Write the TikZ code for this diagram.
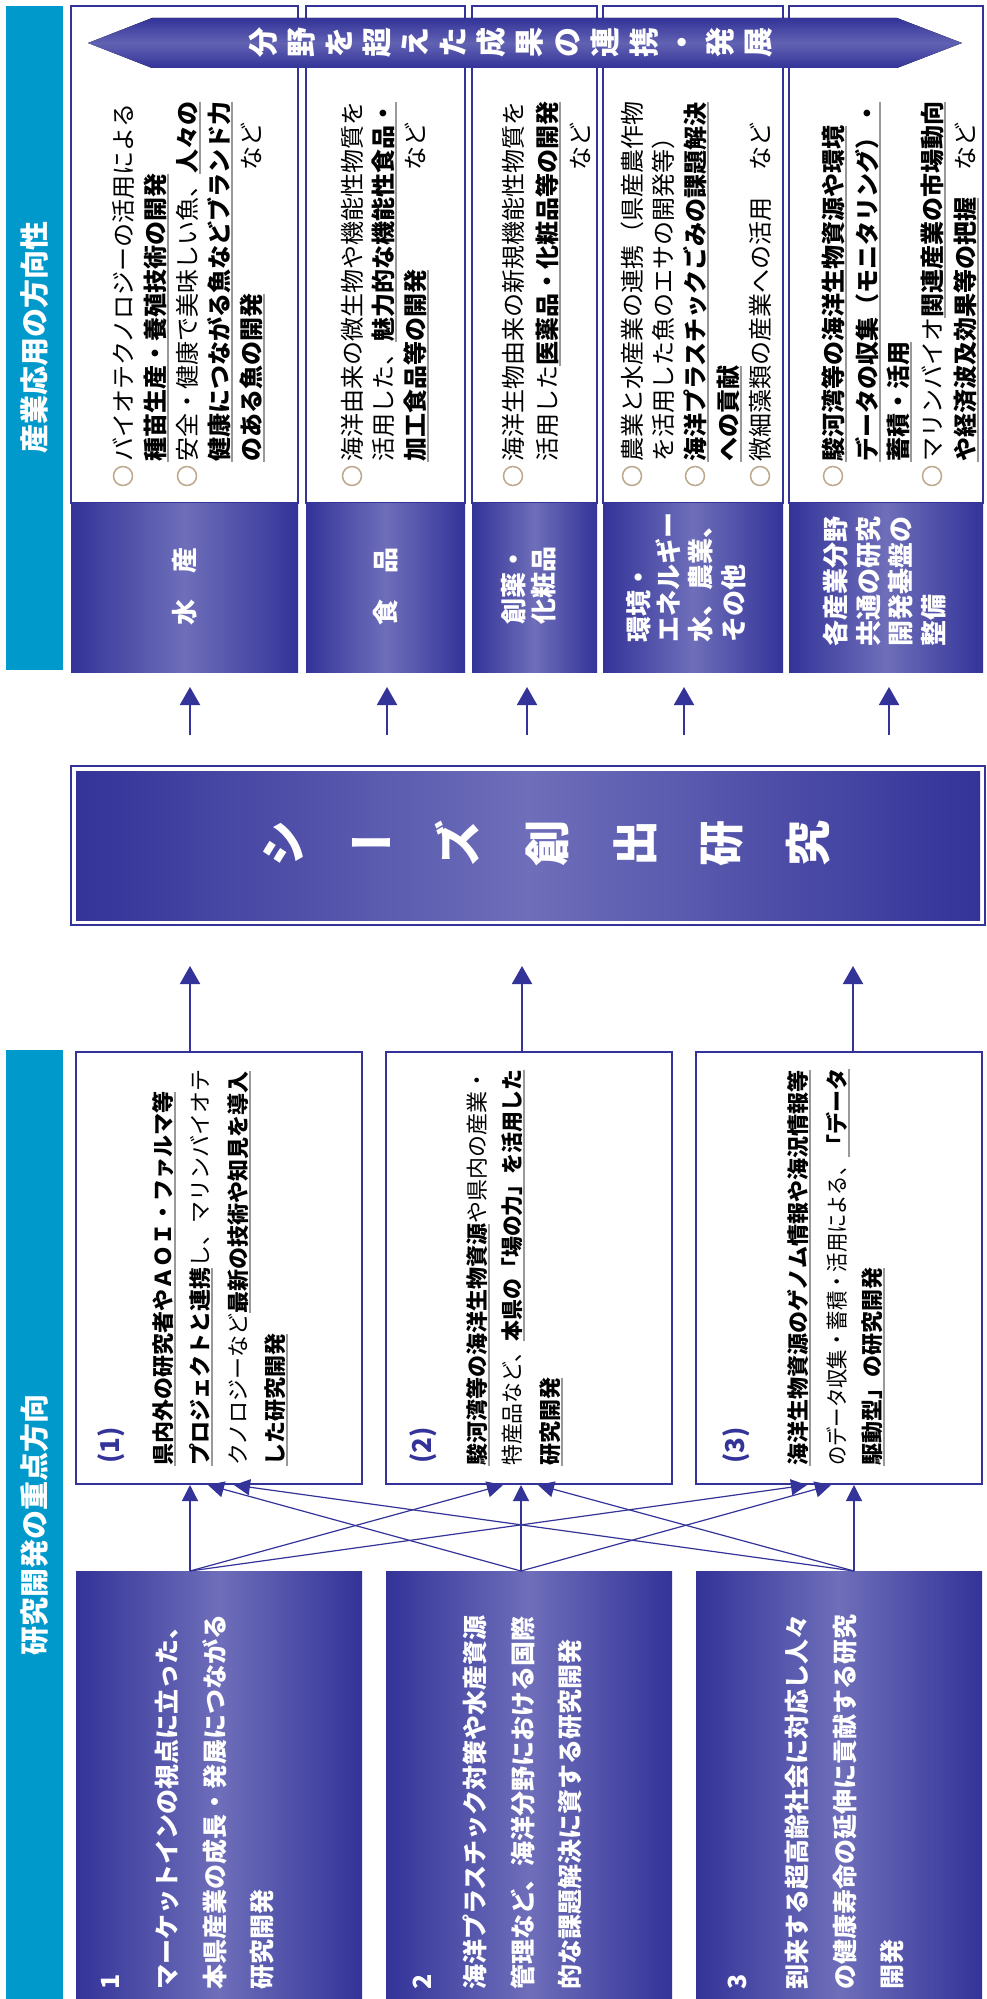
\documentclass[tikz,border=0pt]{standalone}
\usepackage{fontspec}
\usepackage{graphicx}
\setmainfont{Noto Sans CJK JP}
\usetikzlibrary{arrows.meta}
\definecolor{nv}{RGB}{51,51,153}
\definecolor{lt}{RGB}{110,110,186}
\definecolor{cy}{RGB}{0,153,204}
\definecolor{ci}{RGB}{190,168,140}
\newcommand\bu[1]{\setbox0\hbox{\bfseries #1}\rlap{\color{black!40}\rule[-0.22em]{\wd0}{0.1em}}\box0}
\tikzset{
 c24/.style={rotate=90, inner sep=0pt, anchor=west, font=\fontsize{24}{24}\selectfont, text height=21pt, text depth=3pt},
 r22/.style={rotate=90, inner sep=0pt, anchor=west, font=\fontsize{22}{22}\selectfont, text height=19.4pt, text depth=2.6pt},
 d25/.style={rotate=90, inner sep=0pt, anchor=west, text=white, font=\fontsize{25}{25}\selectfont\bfseries, text height=22pt, text depth=3pt},
 l26/.style={rotate=90, inner sep=0pt, anchor=west, text=white, font=\fontsize{26}{26}\selectfont\bfseries, text height=23pt, text depth=3pt},
 ttl/.style={rotate=90, inner sep=0pt, text=white, font=\fontsize{29}{29}\selectfont\bfseries, text height=25.5pt, text depth=3.5pt},
 bch/.style={rotate=90, inner sep=0pt, text=white, font=\fontsize{30}{30}\selectfont\bfseries, text height=26pt, text depth=4pt},
 sch/.style={rotate=90, inner sep=0pt, text=white, font=\fontsize{46}{46}\selectfont\bfseries, text height=40pt, text depth=6pt},
 schflat/.style={inner sep=0pt, text=white, font=\fontsize{46}{46}\selectfont\bfseries, text height=40pt, text depth=6pt},
 num/.style={rotate=90, inner sep=0pt, anchor=west, text=nv, font=\fontsize{26}{26}\selectfont\bfseries, text height=22pt, text depth=4pt},
 wbox/.style={draw=nv, line width=2pt, fill=white},
 dbox/.style={left color=nv, right color=nv, middle color=lt},
 arr/.style={draw=nv, line width=2pt, -{Triangle[length=18pt,width=20pt]}},
 xar/.style={draw=nv, line width=1.2pt, -{Triangle[length=16pt,width=16pt]}},
 circ/.style={draw=ci, line width=1.5pt},
}
\begin{document}
\begin{tikzpicture}[x=1pt,y=-1pt]
\useasboundingbox (0,0) rectangle (986,1999);
\fill[white] (0,0) rectangle (986,1999);
% cyan title bars
\fill[cy] (6,6) rectangle (63,670);
\fill[cy] (6,1050) rectangle (63,1999);
\node[ttl] (tA) at (34,337) {産業応用の方向性};
\node[ttl] (tB) at (34,1525) {研究開発の重点方向};
% industry columns
\foreach \a/\b in {71/298,306/465,472/597,603/783,789/983}{
  \draw[wbox] (\a,6) rectangle (\b,503);
  \shade[dbox] (\a,503) rectangle (\b,672);
}
% band arrow
\fill[top color=nv, bottom color=nv, middle color=lt!80!nv] (88,43) -- (152,18) -- (897,18) -- (962,43) -- (897,68) -- (152,68) -- cycle;
\foreach \c [count=\i from 0] in {分,野,を,超,え,た,成,果,の,連,携,・,発,展}
  \node[bch] (band\i) at ({263+38.1*\i},43) {\c};
% column 1
\node[c24] (c1a) at (123,462) {バイオテクノロジーの活用による};
\node[c24] (c1b) at (155,462) {\bu{種苗生産・養殖技術の開発}};
\node[c24] (c1c) at (187,462) {安全・健康で美味しい魚、\bu{人々の}};
\node[c24] (c1d) at (219,462) {\bu{健康につながる魚などブランド力}};
\node[c24] (c1e) at (251,462) {\bu{のある魚の開発}};
\node[c24,anchor=east] (c1n) at (251,122) {など};
% column 2
\node[c24] (c2a) at (352,462) {海洋由来の微生物や機能性物質を};
\node[c24] (c2b) at (383,462) {活用した、\bu{魅力的な機能性食品・}};
\node[c24] (c2c) at (415,462) {\bu{加工食品等の開発}};
\node[c24,anchor=east] (c2n) at (415,122) {など};
% column 3
\node[c24] (c3a) at (513,462) {海洋生物由来の新規機能性物質を};
\node[c24] (c3b) at (547,462) {活用した\bu{医薬品・化粧品等の開発}};
\node[c24,anchor=east] (c3n) at (580,122) {など};
% column 4
\node[c24] (c4a) at (632,462) {農業と水産業の連携（県産農作物};
\node[c24] (c4b) at (663,462) {を活用した魚のエサの開発等）};
\node[c24] (c4c) at (695,462) {\bu{海洋プラスチックごみの課題解決}};
\node[c24] (c4d) at (728,462) {\bu{への貢献}};
\node[c24] (c4e) at (760,462) {微細藻類の産業への活用};
\node[c24,anchor=east] (c4n) at (760,122) {など};
% column 5
\node[c24] (c5a) at (833,462) {\bu{駿河湾等の海洋生物資源や環境}};
\node[c24] (c5b) at (867,462) {\bu{データの収集（モニタリング）・}};
\node[c24] (c5c) at (898,462) {\bu{蓄積・活用}};
\node[c24] (c5d) at (932,462) {マリンバイオ\bu{関連産業の市場動向}};
\node[c24] (c5e) at (965,462) {\bu{や経済波及効果等の把握}};
\node[c24,anchor=east] (c5n) at (965,122) {など};
% circles
\foreach \x in {123,187,352,513,632,695,760,833,932}
  \draw[circ] (\x,476) circle[radius=9.5pt];
% labels
\node[l26,anchor=center] (L1) at (184,586) {水　産};
\node[l26,anchor=center] (L2) at (385,586) {食　品};
\node[l26] (L3a) at (513,625) {創薬・};
\node[l26] (L3b) at (543,625) {化粧品};
\node[l26] (L4a) at (638,643) {環境・};
\node[l26] (L4b) at (668,643) {エネルギー};
\node[l26] (L4c) at (700,643) {水、農業、};
\node[l26] (L4d) at (733,643) {その他};
\node[l26] (L5a) at (835,647) {各産業分野};
\node[l26] (L5b) at (868,647) {共通の研究};
\node[l26] (L5c) at (900,647) {開発基盤の};
\node[l26] (L5d) at (933,647) {整備};
% top arrows
\foreach \x [count=\i] in {190,387,527,684,889}{
  \coordinate (ts\i) at (\x,735);
  \coordinate (te\i) at (\x,687);
  \draw[arr] (ts\i) -- (te\i);
}
% seeds box
\draw[nv, line width=2pt] (71,766) rectangle (985,925);
\shade[dbox] (76,771) rectangle (980,920);
\node[sch] (s1) at (283,843) {シ};
\node[schflat] (s2) at (371,843) {ー};
\node[sch] (s3) at (458,843) {ズ};
\node[sch] (s4) at (547,843) {創};
\node[sch] (s5) at (635,843) {出};
\node[sch] (s6) at (721,843) {研};
\node[sch] (s7) at (808,843) {究};
% research boxes
\foreach \a/\b [count=\i] in {76/362,386/672,696/982}{
  \draw[wbox] (\a,1052) rectangle (\b,1484);
  \shade[dbox] (\a,1571) rectangle (\b,1999);
}
% bottom arrows
\foreach \x [count=\i] in {190,522,853}{
  \coordinate (bs\i) at (\x,1052);
  \coordinate (be\i) at (\x,966);
  \draw[arr] (bs\i) -- (be\i);
}
% research box texts
\node[num] (n1) at (110,1464) {(1)};
\node[r22] (r1a) at (163,1466) {\bu{県内外の研究者やＡＯＩ・ファルマ等}};
\node[r22] (r1b) at (200,1466) {\bu{プロジェクトと連携}し、マリンバイオテ};
\node[r22] (r1c) at (238,1466) {クノロジーなど\bu{最新の技術や知見を導入}};
\node[r22] (r1d) at (275,1466) {\bu{した研究開発}};
\node[num] (n2) at (422,1464) {(2)};
\node[r22] (r2a) at (477,1466) {\bu{駿河湾等の海洋生物資源}や県内の産業・};
\node[r22] (r2b) at (512,1466) {\scalebox{0.95}[1]{特産品など、\bu{本県の「場の力」を活用した}}};
\node[r22] (r2c) at (550,1466) {\bu{研究開発}};
\node[num] (n3) at (735,1464) {(3)};
\node[r22] (r3a) at (798,1466) {\bu{海洋生物資源のゲノム情報や海況情報等}};
\node[r22] (r3b) at (837,1466) {\scalebox{0.88}[1]{のデータ収集・蓄積・活用による、}\bu{「データ}};
\node[r22] (r3c) at (872,1466) {\bu{駆動型」の研究開発}};
% dark box texts
\node[d25] (d1n) at (110,1990) {1};
\node[d25] (d1a) at (167,1990) {マーケットインの視点に立った、};
\node[d25] (d1b) at (215,1990) {本県産業の成長・発展につながる};
\node[d25] (d1c) at (262,1990) {研究開発};
\node[d25] (d2n) at (422,1990) {2};
\node[d25] (d2a) at (475,1990) {海洋プラスチック対策や水産資源};
\node[d25] (d2b) at (523,1990) {管理など、海洋分野における国際};
\node[d25] (d2c) at (570,1990) {的な課題解決に資する研究開発};
\node[d25] (d3n) at (737,1990) {3};
\node[d25] (d3a) at (797,1990) {到来する超高齢社会に対応し人々};
\node[d25] (d3b) at (845,1990) {の健康寿命の延伸に貢献する研究};
\node[d25] (d3c) at (892,1990) {開発};
% crossing connectors
\coordinate (P1) at (190,1571);
\coordinate (P2) at (521,1571);
\coordinate (P3) at (854,1571);
\coordinate (a11) at (190,1485);
\coordinate (a21) at (208,1485);
\coordinate (a31) at (234,1485);
\coordinate (a12) at (503,1485);
\coordinate (a22) at (521,1485);
\coordinate (a32) at (538,1485);
\coordinate (a13) at (807,1485);
\coordinate (a23) at (831,1485);
\coordinate (a33) at (854,1485);
\foreach \s in {1,2,3}{
  \foreach \t in {1,2,3}{
    \draw[xar] (P\s) -- (a\s\t);
  }
}
\end{tikzpicture}
\end{document}
